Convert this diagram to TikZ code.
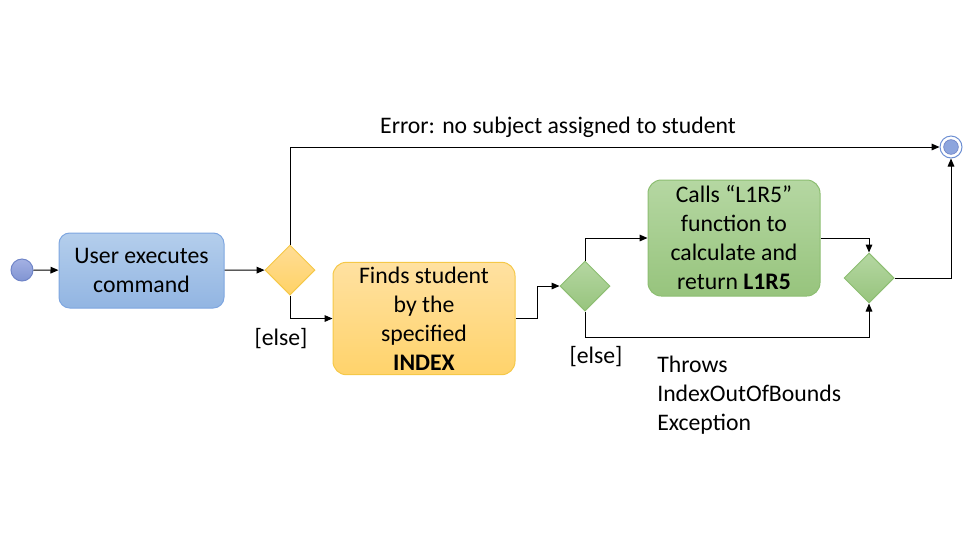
\documentclass[tikz,border=0pt]{standalone}
\usepackage{fontspec}
\setmainfont{Carlito}
\usetikzlibrary{shapes.geometric,arrows.meta}
\definecolor{actline}{HTML}{7EA6E0}
\definecolor{acttop}{HTML}{B4CEEC}
\definecolor{actbot}{HTML}{92B5E2}
\definecolor{decline}{HTML}{F5C848}
\definecolor{dectop}{HTML}{FFDD95}
\definecolor{decbot}{HTML}{FFD266}
\definecolor{findtop}{HTML}{FFE1A1}
\definecolor{findbot}{HTML}{FFD36B}
\definecolor{okline}{HTML}{8DBE72}
\definecolor{oktop}{HTML}{B5D7A2}
\definecolor{okbot}{HTML}{97C47D}
\definecolor{dotline}{HTML}{7085C8}
\definecolor{dottop}{HTML}{A4B1E3}
\definecolor{dotbot}{HTML}{8094D2}
\definecolor{ringline}{HTML}{6D8FD3}
\definecolor{ringfill}{HTML}{8DA5DD}
\tikzset{
  flow/.style={draw=black,line width=0.75pt,>={Triangle[length=6pt,width=5pt]}},
  bluebox/.style={draw=actline,rounded corners=8pt,top color=acttop,bottom color=actbot,minimum width=123.75pt,minimum height=56.25pt,align=center,line width=0.75pt},
  yellowbox/.style={draw=decline,rounded corners=10pt,top color=findtop,bottom color=findbot,minimum width=136.5pt,minimum height=83.25pt,align=center,line width=0.75pt},
  greenbox/.style={draw=okline,rounded corners=10pt,top color=oktop,bottom color=okbot,minimum width=129pt,minimum height=87pt,align=center,line width=0.75pt},
  ydec/.style={diamond,inner sep=0pt,minimum width=37.5pt,minimum height=37.5pt,draw=decline,line width=0.75pt,top color=dectop,bottom color=decbot},
  gdec/.style={diamond,inner sep=0pt,minimum width=37.5pt,minimum height=37.5pt,draw=okline,line width=0.75pt,top color=oktop,bottom color=okbot},
  lbl/.style={inner sep=0pt}
}
\begin{document}
\begin{tikzpicture}[x=0.75pt,y=0.75pt,font=\fontsize{17.8}{21.75}\selectfont]
	% page frame
	\useasboundingbox (0,0) rectangle (967,-544);
	% start and end
	\node[circle,inner sep=0pt,minimum size=16.5pt,draw=dotline,line width=0.75pt,top color=dottop,bottom color=dotbot] (start) at (22,-270) {};
	\node[circle,inner sep=0pt,minimum size=16.5pt,draw=ringline,line width=0.75pt] (end) at (951,-147) {};
	\node[circle,inner sep=0pt,minimum size=11pt,fill=ringfill,draw=dotline,line width=0.5pt] (endin) at (951,-147) {};
	% actions
	\node[bluebox] (cmd) at (141.5,-270.5) {User executes\\command};
	\node[yellowbox] (find) at (424,-318.5) {Finds student\\by the\\specified\\\textbf{INDEX}};
	\node[greenbox] (calc) at (734,-238) {Calls “L1R5”\\function to\\calculate and\\return \textbf{L1R5}};
	% decisions
	\node[ydec] (chk) at (290,-270) {};
	\node[gdec] (sel) at (585,-286) {};
	\node[gdec] (merge) at (869,-278) {};
	% connectors
	\draw[flow,->] (start) -- (cmd);
	\draw[flow,->] (cmd) -- (chk);
	\draw[flow,->] (chk.north) |- (end.west);
	\draw[flow,->] (chk.south) |- (find.west);
	\draw[flow,->] (find.east) -- ++(22,0) |- (sel.west);
	\draw[flow,->] (sel.north) |- (calc.west);
	\draw[flow,->] (calc.east) -| (merge.north);
	\draw[flow,->] (sel.south) -- ++(0,-26) -| (merge.south);
	\draw[flow,->] (merge.east) -| (end.south);
	% guards and notes
	\node[lbl] (errlbl) at (558,-127) {Error: no subject assigned to student};
	\node[lbl] (else1) at (281,-339) {[else]};
	\node[lbl] (else2) at (596,-357) {[else]};
	\node[lbl,anchor=north west,align=left] (throws) at (657,-356) {Throws\\IndexOutOfBounds\\Exception};
\end{tikzpicture}
\end{document}
